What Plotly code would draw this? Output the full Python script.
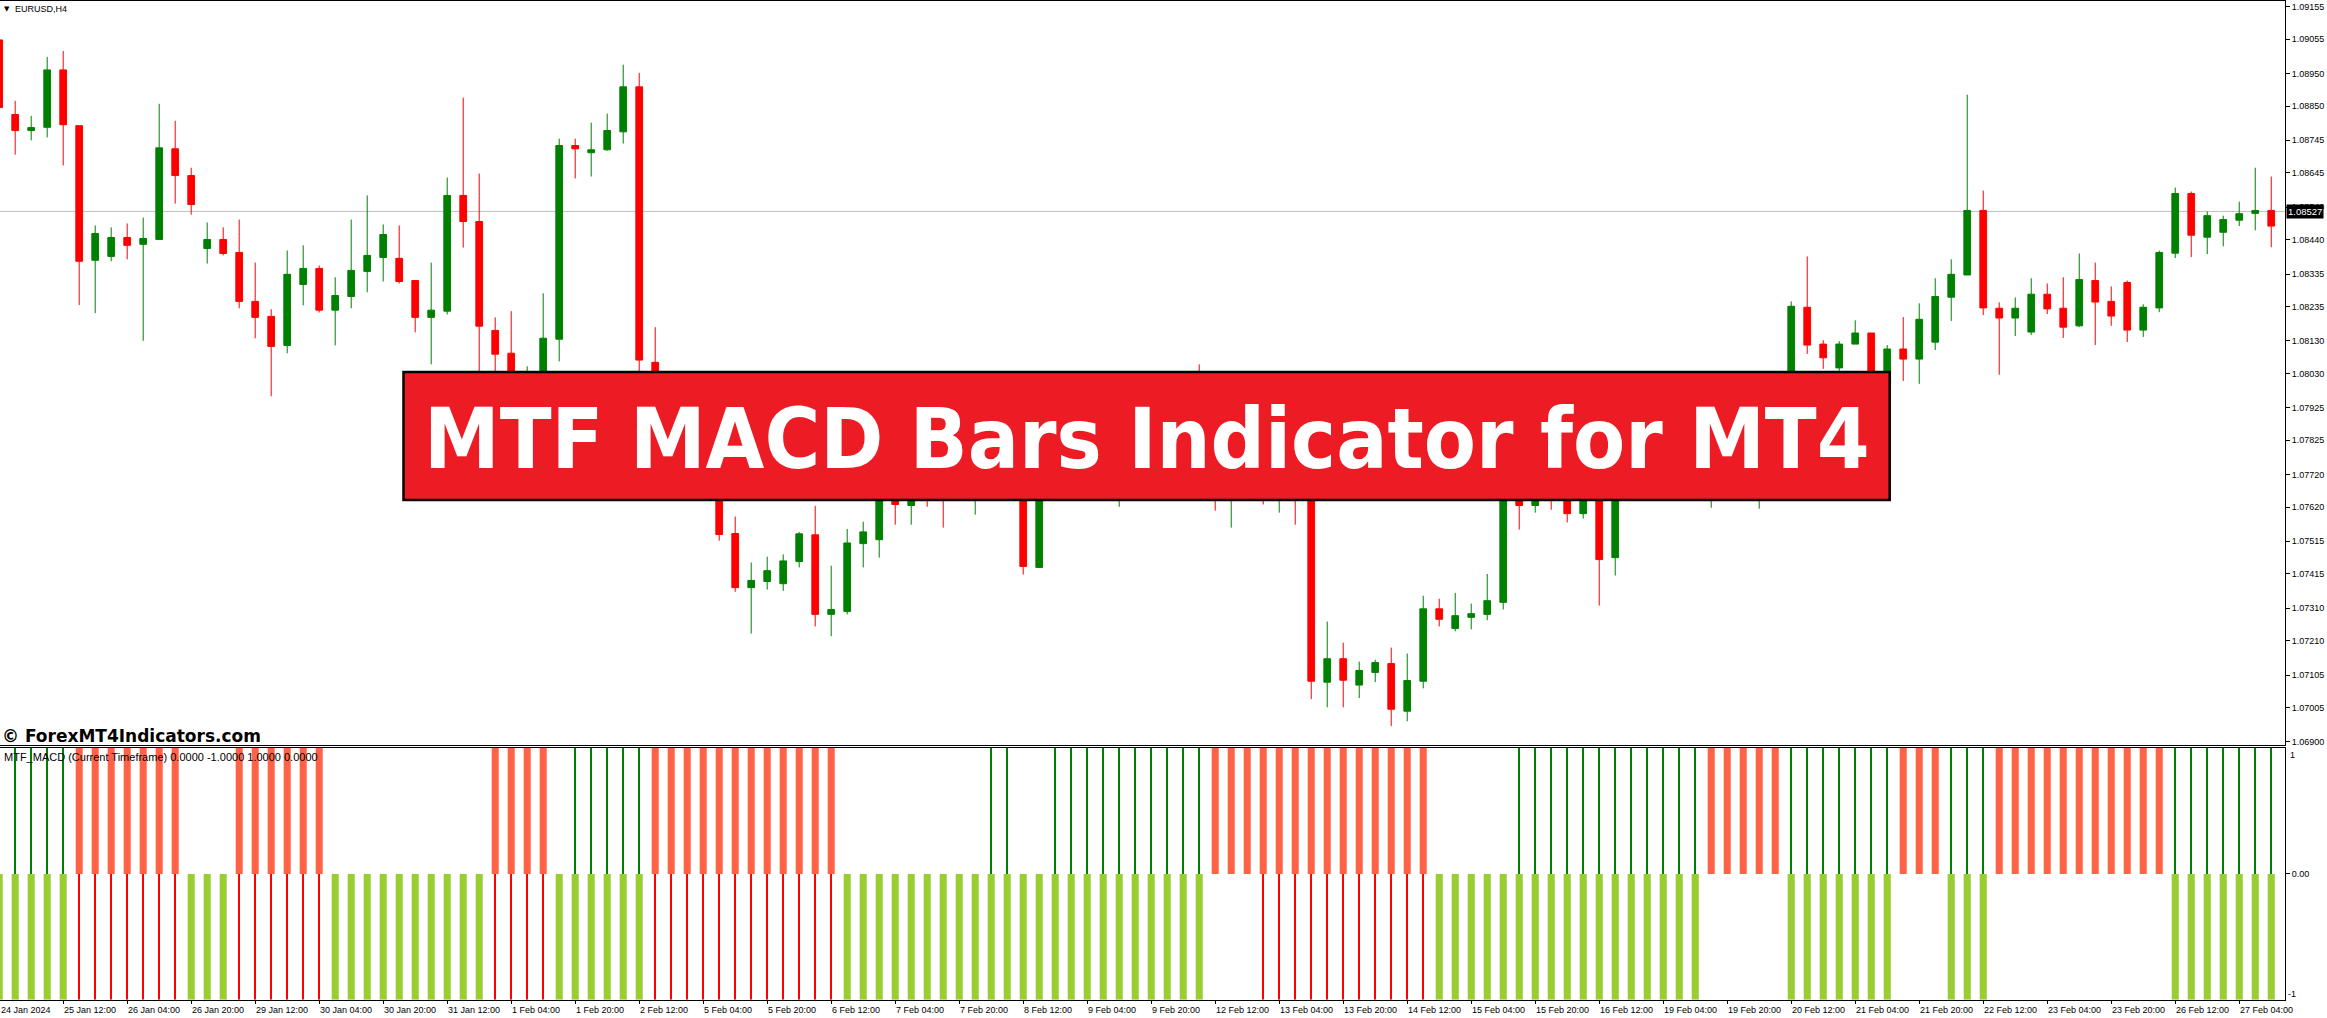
import plotly.graph_objects as go

W, H = 2327, 1018

# ---------------- data ----------------
symbol_label = "EURUSD,H4"
indicator_label = "MTF_MACD (Current Timeframe) 0.0000 -1.0000 1.0000 0.0000"
watermark = "© ForexMT4Indicators.com"
banner_text = "MTF MACD Bars Indicator for MT4"
current_price = 1.08527

# H4 candles, 24 Jan 2024 20:00 ... 27 Feb 2024 12:00 (bar index 0..142)
open_ = [1.09053, 1.08824, 1.08775, 1.08785, 1.08961, 1.08790, 1.08377, 1.08389, 1.08447, 1.08426,
         1.08441, 1.08719, 1.08637, 1.08413, 1.08441, 1.08401, 1.08251, 1.08205, 1.08116, 1.08303,
         1.08352, 1.08224, 1.08266, 1.08343, 1.08386, 1.08383, 1.08315, 1.08202, 1.08221, 1.08576,
         1.08496, 1.08162, 1.08092, 1.07859, 1.07921, 1.08135, 1.08729, 1.08707, 1.08716, 1.08771,
         1.08909, 1.08064, 1.07859, 1.07767, 1.07783, 1.07706, 1.07539, 1.07373, 1.07392, 1.07385,
         1.07453, 1.07535, 1.07291, 1.07300, 1.07508, 1.07520, 1.07737, 1.07625, 1.07722, 1.07712,
         1.07645, 1.07706, 1.07737, 1.07767, 1.07783, 1.07435, 1.07737, 1.07798, 1.07829, 1.07813,
         1.07859, 1.07905, 1.07936, 1.07921, 1.07951, 1.07966, 1.07890, 1.07829, 1.07875, 1.07859,
         1.07798, 1.07829, 1.07767, 1.07083, 1.07155, 1.07074, 1.07113, 1.07140, 1.06994, 1.07086,
         1.07308, 1.07248, 1.07282, 1.07291, 1.07328, 1.07676, 1.07625, 1.07676, 1.07670, 1.07600,
         1.07660, 1.07465, 1.07706, 1.07767, 1.07737, 1.07798, 1.07829, 1.07859, 1.07890, 1.07859,
         1.07875, 1.07921, 1.07890, 1.08233, 1.08120, 1.08047, 1.08120, 1.08154, 1.07998, 1.08105,
         1.08074, 1.08126, 1.08264, 1.08332, 1.08530, 1.08230, 1.08200, 1.08157, 1.08273, 1.08230,
         1.08176, 1.08315, 1.08251, 1.08309, 1.08163, 1.08231, 1.08399, 1.08582, 1.08448, 1.08463,
         1.08500, 1.08521, 1.08530]
high = [1.09059, 1.08866, 1.08820, 1.09001, 1.09019, 1.08790, 1.08484, 1.08478, 1.08490, 1.08508,
        1.08857, 1.08805, 1.08661, 1.08493, 1.08478, 1.08502, 1.08370, 1.08227, 1.08407, 1.08423,
        1.08361, 1.08325, 1.08502, 1.08576, 1.08487, 1.08484, 1.08315, 1.08370, 1.08631, 1.08876,
        1.08643, 1.08202, 1.08221, 1.08052, 1.08276, 1.08750, 1.08750, 1.08799, 1.08827, 1.08977,
        1.08952, 1.08172, 1.07890, 1.07829, 1.07813, 1.07737, 1.07591, 1.07450, 1.07468, 1.07475,
        1.07544, 1.07624, 1.07440, 1.07553, 1.07575, 1.07767, 1.07783, 1.07752, 1.07767, 1.07737,
        1.07737, 1.07798, 1.07813, 1.07829, 1.07798, 1.07767, 1.07859, 1.07890, 1.07875, 1.07905,
        1.07936, 1.07966, 1.07982, 1.07997, 1.08012, 1.08058, 1.07921, 1.07905, 1.07936, 1.07890,
        1.07875, 1.07859, 1.07783, 1.07269, 1.07204, 1.07146, 1.07152, 1.07189, 1.07171, 1.07348,
        1.07339, 1.07357, 1.07324, 1.07415, 1.07737, 1.07722, 1.07706, 1.07712, 1.07706, 1.07691,
        1.07691, 1.07737, 1.07798, 1.07813, 1.07829, 1.07890, 1.07921, 1.07951, 1.07921, 1.07905,
        1.07966, 1.07982, 1.08251, 1.08389, 1.08132, 1.08129, 1.08193, 1.08154, 1.08117, 1.08203,
        1.08245, 1.08322, 1.08380, 1.08885, 1.08591, 1.08248, 1.08263, 1.08322, 1.08306, 1.08325,
        1.08398, 1.08370, 1.08297, 1.08315, 1.08242, 1.08407, 1.08600, 1.08588, 1.08527, 1.08514,
        1.08557, 1.08661, 1.08634]
low = [1.08839, 1.08701, 1.08745, 1.08754, 1.08668, 1.08240, 1.08215, 1.08374, 1.08380, 1.08130,
       1.08441, 1.08551, 1.08517, 1.08367, 1.08392, 1.08230, 1.08138, 1.07960, 1.08092, 1.08239,
       1.08217, 1.08116, 1.08230, 1.08279, 1.08312, 1.08306, 1.08156, 1.08058, 1.08211, 1.08416,
       1.07982, 1.07966, 1.07829, 1.07813, 1.07890, 1.08067, 1.08628, 1.08634, 1.08713, 1.08735,
       1.08018, 1.07829, 1.07737, 1.07722, 1.07676, 1.07517, 1.07360, 1.07232, 1.07367, 1.07363,
       1.07435, 1.07254, 1.07224, 1.07291, 1.07435, 1.07465, 1.07566, 1.07566, 1.07621, 1.07557,
       1.07642, 1.07597, 1.07676, 1.07676, 1.07413, 1.07434, 1.07676, 1.07737, 1.07752, 1.07767,
       1.07621, 1.07859, 1.07875, 1.07890, 1.07905, 1.07829, 1.07609, 1.07557, 1.07767, 1.07628,
       1.07603, 1.07566, 1.07031, 1.07006, 1.07006, 1.07034, 1.07083, 1.06948, 1.06963, 1.07064,
       1.07254, 1.07239, 1.07245, 1.07273, 1.07306, 1.07551, 1.07603, 1.07612, 1.07573, 1.07585,
       1.07318, 1.07410, 1.07676, 1.07706, 1.07691, 1.07752, 1.07783, 1.07618, 1.07813, 1.07798,
       1.07615, 1.07829, 1.07859, 1.08090, 1.08044, 1.08038, 1.08120, 1.07921, 1.07988, 1.08007,
       1.07998, 1.08102, 1.08191, 1.08332, 1.08209, 1.08026, 1.08145, 1.08148, 1.08212, 1.08139,
       1.08172, 1.08117, 1.08176, 1.08126, 1.08142, 1.08218, 1.08384, 1.08387, 1.08396, 1.08420,
       1.08482, 1.08469, 1.08417]
close = [1.08846, 1.08775, 1.08784, 1.08961, 1.08793, 1.08374, 1.08459, 1.08447, 1.08423, 1.08444,
         1.08722, 1.08637, 1.08548, 1.08441, 1.08398, 1.08251, 1.08202, 1.08113, 1.08334, 1.08352,
         1.08224, 1.08269, 1.08346, 1.08392, 1.08456, 1.08312, 1.08202, 1.08224, 1.08576, 1.08496,
         1.08175, 1.08089, 1.07890, 1.07921, 1.08138, 1.08729, 1.08719, 1.08716, 1.08775, 1.08909,
         1.08071, 1.07859, 1.07767, 1.07783, 1.07706, 1.07536, 1.07373, 1.07395, 1.07425, 1.07455,
         1.07538, 1.07291, 1.07306, 1.07510, 1.07544, 1.07737, 1.07628, 1.07722, 1.07712, 1.07645,
         1.07706, 1.07737, 1.07767, 1.07783, 1.07438, 1.07737, 1.07798, 1.07829, 1.07813, 1.07859,
         1.07905, 1.07936, 1.07921, 1.07951, 1.07966, 1.07890, 1.07829, 1.07875, 1.07859, 1.07798,
         1.07829, 1.07767, 1.07086, 1.07155, 1.07089, 1.07119, 1.07143, 1.07000, 1.07088, 1.07308,
         1.07276, 1.07287, 1.07293, 1.07333, 1.07676, 1.07625, 1.07676, 1.07670, 1.07600, 1.07660,
         1.07459, 1.07706, 1.07767, 1.07737, 1.07798, 1.07829, 1.07859, 1.07890, 1.07859, 1.07875,
         1.07921, 1.07890, 1.08236, 1.08117, 1.08078, 1.08120, 1.08154, 1.07951, 1.08105, 1.08074,
         1.08196, 1.08266, 1.08334, 1.08530, 1.08231, 1.08200, 1.08230, 1.08273, 1.08228, 1.08172,
         1.08318, 1.08249, 1.08206, 1.08163, 1.08233, 1.08401, 1.08582, 1.08454, 1.08514, 1.08502,
         1.08520, 1.08530, 1.08482]

# MTF MACD histogram states per bar
# upper half (0..+1): T = tomato thick bar, G = thin green line, - = nothing
upper_state = list(
    "GGGGG" + "TTTTTTT" + "---" + "TTTTTT" + "----------" + "TTTT" + "-" + "GGGGG"
    + "TTTTTTTTTTTT" + "---------" + "GG" + "--" + "GGGGGGGGGG" + "TTTTTTTTTTTTTT"
    + "-----" + "GGGGGGGGGGGG" + "TTTTT" + "GGGGGGG" + "TTT" + "GGG" + "TTTTTTTTTTT" + "GGGGGGG")
# lower half (0..-1): L = yellow-green thick bar, R = thin red line, - = nothing
lower_state = list(
    "LLLLL" + "RRRRRRR" + "LLL" + "RRRRRR" + "LLLLLLLLLL" + "RRRR" + "LLLLLL"
    + "RRRRRRRRRRRR" + "LLLLLLLLLLLLLLLLLLLLLLL" + "---" + "RRRRRRRRRRR"
    + "LLLLLLLLLLLLLLLLL" + "-----" + "LLLLLLL" + "---" + "LLL" + "-----------" + "LLLLLLL")

price_ticks = ["1.09155", "1.09055", "1.08950", "1.08850", "1.08745", "1.08645", "1.08540",
               "1.08440", "1.08335", "1.08235", "1.08130", "1.08030", "1.07925", "1.07825",
               "1.07720", "1.07620", "1.07515", "1.07415", "1.07310", "1.07210", "1.07105",
               "1.07005", "1.06900"]

date_labels = ["24 Jan 2024", "25 Jan 12:00", "26 Jan 04:00", "26 Jan 20:00", "29 Jan 12:00",
               "30 Jan 04:00", "30 Jan 20:00", "31 Jan 12:00", "1 Feb 04:00", "1 Feb 20:00",
               "2 Feb 12:00", "5 Feb 04:00", "5 Feb 20:00", "6 Feb 12:00", "7 Feb 04:00",
               "7 Feb 20:00", "8 Feb 12:00", "9 Feb 04:00", "9 Feb 20:00", "12 Feb 12:00",
               "13 Feb 04:00", "13 Feb 20:00", "14 Feb 12:00", "15 Feb 04:00", "15 Feb 20:00",
               "16 Feb 12:00", "19 Feb 04:00", "19 Feb 20:00", "20 Feb 12:00", "21 Feb 04:00",
               "21 Feb 20:00", "22 Feb 12:00", "23 Feb 04:00", "23 Feb 20:00", "26 Feb 12:00",
               "27 Feb 04:00"]
date_label_bars = list(range(0, 144, 4))

bar_idx = list(range(len(open_)))

# ---------------- helpers (layout only) ----------------
def px(p):
    return p / W

def py(p):
    return 1 - p / H

X_RANGE = [0.05, 142.86]
Y_RANGE = [1.068902, 1.091724]
XDOM = [0, px(2285)]
MAIN_DOM = [py(746.5), py(1.0)]
IND_DOM = [py(1001.7), py(749.5)]

LBL_FONT = dict(family="Liberation Sans, Arial, sans-serif", size=9, color="black")

fig = go.Figure()

fig.add_trace(go.Candlestick(
    x=bar_idx, open=open_, high=high, low=low, close=close,
    increasing=dict(line=dict(color="#008000", width=1), fillcolor="#008000"),
    decreasing=dict(line=dict(color="#FF0000", width=1), fillcolor="#FF0000"),
    whiskerwidth=0, xaxis="x", yaxis="y", showlegend=False, hoverinfo="skip"))

def series(states, code, value):
    return [value if s == code else None for s in states]

fig.add_trace(go.Bar(x=bar_idx, y=series(upper_state, "T", 1), base=0, width=0.44,
                     marker=dict(color="#FF6347", line=dict(width=0)),
                     xaxis="x2", yaxis="y2", showlegend=False, hoverinfo="skip"))
fig.add_trace(go.Bar(x=bar_idx, y=series(upper_state, "G", 1), base=0, width=0.085,
                     marker=dict(color="#008000", line=dict(width=0)),
                     xaxis="x2", yaxis="y2", showlegend=False, hoverinfo="skip"))
fig.add_trace(go.Bar(x=bar_idx, y=series(lower_state, "L", -1), base=0, width=0.44,
                     marker=dict(color="#9ACD32", line=dict(width=0)),
                     xaxis="x2", yaxis="y2", showlegend=False, hoverinfo="skip"))
fig.add_trace(go.Bar(x=bar_idx, y=series(lower_state, "R", -1), base=0, width=0.085,
                     marker=dict(color="#FF0000", line=dict(width=0)),
                     xaxis="x2", yaxis="y2", showlegend=False, hoverinfo="skip"))

annotations = []
# date labels (kept inside the visible x range so the first one is drawn)
for b, lab in zip(date_label_bars, date_labels):
    annotations.append(dict(x=max(b, X_RANGE[0] + 0.01), xref="x2", y=py(1011.5),
                            yref="paper", text=lab, xanchor="left", yanchor="middle",
                            showarrow=False, font=LBL_FONT, xshift=-1))
# indicator scale labels
annotations += [
    dict(x=px(2288), xref="paper", y=py(756.5), yref="paper", text="1", xanchor="left",
         yanchor="middle", showarrow=False, font=LBL_FONT),
    dict(x=px(2286), xref="paper", y=py(995.5), yref="paper", text="-1", xanchor="left",
         yanchor="middle", showarrow=False, font=LBL_FONT),
]
# current price box
annotations.append(dict(x=px(2286), xref="paper", y=current_price, yref="y",
                        text=f"{current_price:.5f}", xanchor="left", yanchor="middle",
                        showarrow=False, bgcolor="black", borderpad=1,
                        font=dict(family="Liberation Sans, Arial, sans-serif", size=9.5,
                                  color="white")))
# top-left symbol
annotations.append(dict(x=px(2), xref="paper", y=py(9), yref="paper", text="▼",
                        xanchor="left", yanchor="middle", showarrow=False,
                        font=dict(family="DejaVu Sans", size=7, color="black")))
annotations.append(dict(x=px(12.5), xref="paper", y=py(8.8), yref="paper", text=symbol_label,
                        xanchor="left", yanchor="middle", showarrow=False, font=LBL_FONT))
# indicator name
annotations.append(dict(x=px(1.5), xref="paper", y=py(758.3), yref="paper",
                        text=indicator_label, xanchor="left", yanchor="middle",
                        showarrow=False,
                        font=dict(family="Liberation Sans, Arial, sans-serif", size=11,
                                  color="black")))
# watermark
annotations.append(dict(x=px(0), xref="paper", y=py(737.5), yref="paper",
                        text=f"<b>{watermark}</b>", xanchor="left", yanchor="middle",
                        showarrow=False,
                        font=dict(family="DejaVu Sans", size=17, color="black")))
# banner title
annotations.append(dict(x=px(1146.7), xref="paper", y=py(440), yref="paper",
                        text=f"<b>{banner_text}</b>", xanchor="center", yanchor="middle",
                        showarrow=False,
                        font=dict(family="DejaVu Sans Condensed", size=84.5, color="white")))

shapes = [
    dict(type="line", xref="x domain", x0=0, x1=1, yref="y", y0=current_price,
         y1=current_price, line=dict(color="#C0C0C0", width=1), layer="below"),
    dict(type="rect", xref="paper", yref="paper", x0=px(403.5), x1=px(1889.7),
         y0=py(501), y1=py(372.7), fillcolor="#ED1C24",
         line=dict(color="black", width=2.5), layer="above"),
]

fig.update_layout(
    width=W, height=H, autosize=False,
    margin=dict(l=0, r=0, t=0, b=0, pad=0),
    paper_bgcolor="white", plot_bgcolor="white",
    showlegend=False, barmode="overlay", boxgap=0.4,
    xaxis=dict(domain=XDOM, range=X_RANGE, anchor="y", showticklabels=False,
               showgrid=False, zeroline=False, showline=True, mirror=True,
               linecolor="black", linewidth=1, ticks="", rangeslider=dict(visible=False),
               fixedrange=True),
    yaxis=dict(domain=MAIN_DOM, range=Y_RANGE, anchor="x", side="right",
               tickvals=[float(t) for t in price_ticks], ticktext=price_ticks,
               ticks="outside", ticklen=4, tickcolor="black", tickwidth=1,
               tickfont=LBL_FONT, showgrid=False, zeroline=False, showline=True,
               linecolor="black", linewidth=1, fixedrange=True),
    xaxis2=dict(domain=XDOM, range=X_RANGE, anchor="y2", showticklabels=False,
                tickvals=date_label_bars, ticks="outside", ticklen=3, tickcolor="black",
                showgrid=False, zeroline=False, showline=True, mirror=True,
                linecolor="black", linewidth=1, fixedrange=True),
    yaxis2=dict(domain=IND_DOM, range=[-1, 1], anchor="x2", side="right",
                tickvals=[0], ticktext=["0.00"], ticks="outside", ticklen=4,
                tickcolor="black", tickfont=LBL_FONT, showgrid=False, zeroline=False,
                showline=True, linecolor="black", linewidth=1, fixedrange=True),
    annotations=annotations,
    shapes=shapes,
)

fig.write_html(
    "out.html",
    config={"displayModeBar": False},
    post_script="document.body.style.margin='0px';document.body.style.overflow='hidden';",
)
